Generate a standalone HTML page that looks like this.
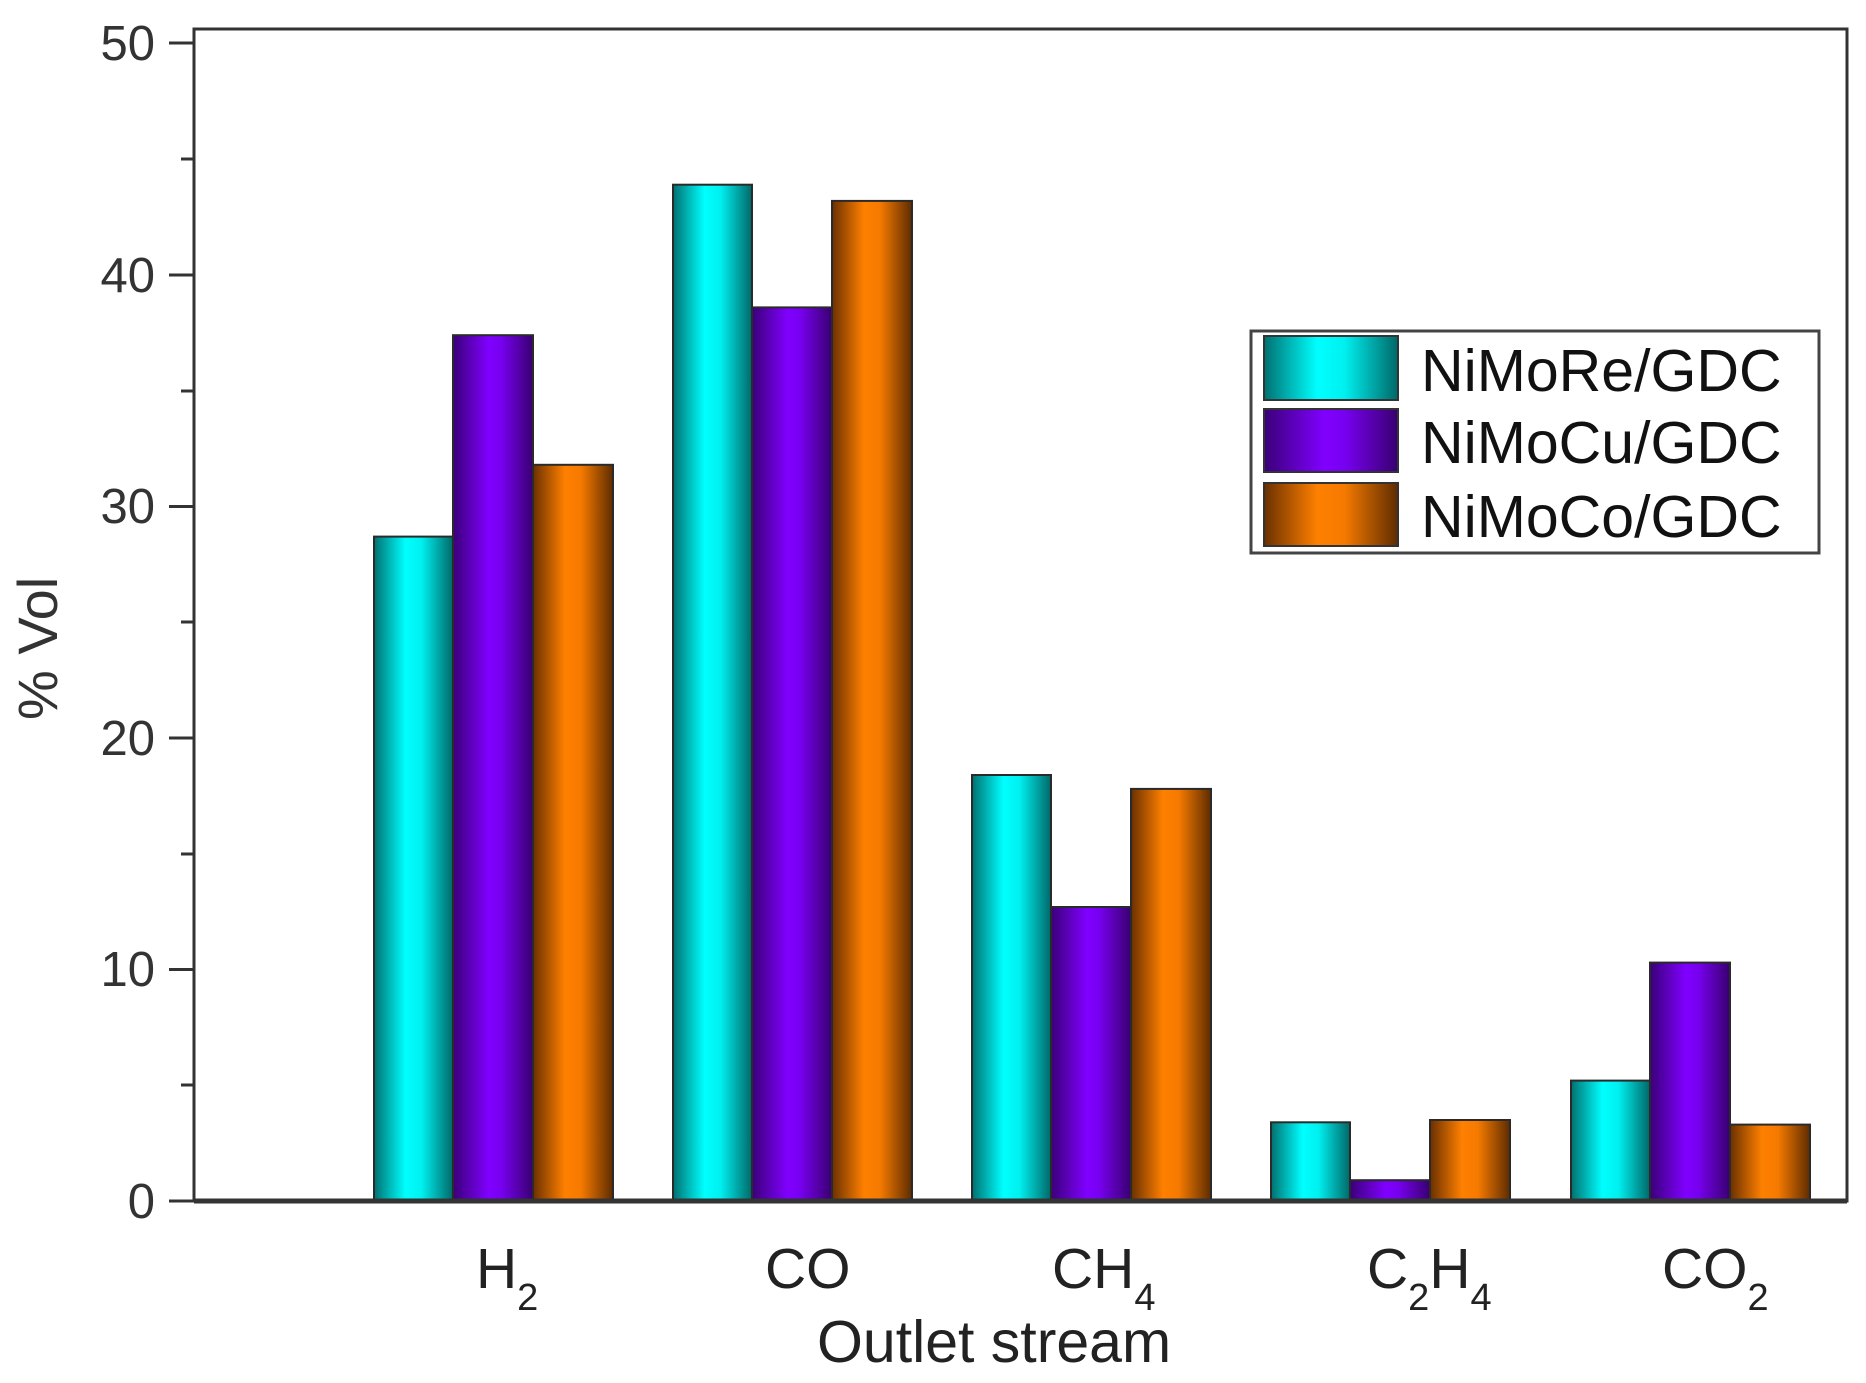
<!DOCTYPE html>
<html><head><style>html,body{margin:0;padding:0;background:#fff}svg{display:block}</style></head>
<body>
<svg width="1866" height="1383" viewBox="0 0 1866 1383" xmlns="http://www.w3.org/2000/svg" font-family="Liberation Sans, sans-serif">
<defs>
<linearGradient id="gc" x1="0" x2="1" y1="0" y2="0"><stop offset="0" stop-color="#007070"/><stop offset="0.4" stop-color="#00ffff"/><stop offset="0.6" stop-color="#00f0f0"/><stop offset="1" stop-color="#006868"/></linearGradient>
<linearGradient id="gp" x1="0" x2="1" y1="0" y2="0"><stop offset="0" stop-color="#3a0078"/><stop offset="0.45" stop-color="#8000ff"/><stop offset="0.6" stop-color="#7800f0"/><stop offset="1" stop-color="#380070"/></linearGradient>
<linearGradient id="go" x1="0" x2="1" y1="0" y2="0"><stop offset="0" stop-color="#6a3000"/><stop offset="0.4" stop-color="#ff8000"/><stop offset="0.6" stop-color="#f57a00"/><stop offset="1" stop-color="#5e2c00"/></linearGradient>
</defs>
<g stroke="#2a2a2a" stroke-width="2">
<rect x="374" y="536.6" width="79" height="664.4" fill="url(#gc)"/>
<rect x="453" y="335.2" width="80" height="865.8" fill="url(#gp)"/>
<rect x="533" y="464.8" width="80" height="736.2" fill="url(#go)"/>
<rect x="673" y="184.7" width="79" height="1016.3" fill="url(#gc)"/>
<rect x="752" y="307.4" width="80" height="893.6" fill="url(#gp)"/>
<rect x="832" y="200.9" width="80" height="1000.1" fill="url(#go)"/>
<rect x="972" y="775.0" width="79" height="426.0" fill="url(#gc)"/>
<rect x="1051" y="907.0" width="80" height="294.0" fill="url(#gp)"/>
<rect x="1131" y="788.9" width="80" height="412.1" fill="url(#go)"/>
<rect x="1271" y="1122.3" width="79" height="78.7" fill="url(#gc)"/>
<rect x="1350" y="1180.2" width="80" height="20.8" fill="url(#gp)"/>
<rect x="1430" y="1120.0" width="80" height="81.0" fill="url(#go)"/>
<rect x="1571" y="1080.6" width="79" height="120.4" fill="url(#gc)"/>
<rect x="1650" y="962.6" width="80" height="238.4" fill="url(#gp)"/>
<rect x="1730" y="1124.6" width="80" height="76.4" fill="url(#go)"/>
</g>
<rect x="194" y="29" width="1653" height="1172" fill="none" stroke="#333" stroke-width="3"/>
<line x1="194" y1="1201" x2="1847" y2="1201" stroke="#333" stroke-width="5"/>
<g stroke="#333" stroke-width="3">
<line x1="169" y1="1201" x2="194" y2="1201"/>
<line x1="181" y1="1085" x2="194" y2="1085"/>
<line x1="169" y1="969.5" x2="194" y2="969.5"/>
<line x1="181" y1="854" x2="194" y2="854"/>
<line x1="169" y1="738" x2="194" y2="738"/>
<line x1="181" y1="622" x2="194" y2="622"/>
<line x1="169" y1="506.5" x2="194" y2="506.5"/>
<line x1="181" y1="391" x2="194" y2="391"/>
<line x1="169" y1="275" x2="194" y2="275"/>
<line x1="181" y1="159" x2="194" y2="159"/>
<line x1="169" y1="43" x2="194" y2="43"/>
</g>
<g font-size="49" fill="#333" text-anchor="end">
<text x="155" y="60">50</text>
<text x="155" y="292">40</text>
<text x="155" y="523">30</text>
<text x="155" y="755">20</text>
<text x="155" y="986">10</text>
<text x="155" y="1218">0</text>
</g>
<text transform="translate(57,720) rotate(-90)" font-size="56" fill="#333">% Vol</text>
<g font-size="57" fill="#222">
<text x="476" y="1288">H<tspan font-size="38" dy="22">2</tspan></text>
<text x="765" y="1288">CO</text>
<text x="1052" y="1288">CH<tspan font-size="38" dy="22">4</tspan></text>
<text x="1367" y="1288">C<tspan font-size="38" dy="22">2</tspan><tspan dy="-22">H</tspan><tspan font-size="38" dy="22">4</tspan></text>
<text x="1662" y="1288">CO<tspan font-size="38" dy="22">2</tspan></text>
</g>
<text x="817" y="1362" font-size="59" fill="#222">Outlet stream</text>
<rect x="1251" y="331" width="568" height="222" fill="#fff" stroke="#444" stroke-width="3"/>
<rect x="1264" y="336" width="134" height="64" fill="url(#gc)" stroke="#333" stroke-width="2"/>
<rect x="1264" y="409" width="134" height="63" fill="url(#gp)" stroke="#333" stroke-width="2"/>
<rect x="1264" y="483" width="134" height="63" fill="url(#go)" stroke="#333" stroke-width="2"/>
<g font-size="59" fill="#111">
<text x="1421" y="391">NiMoRe/GDC</text>
<text x="1421" y="463">NiMoCu/GDC</text>
<text x="1421" y="537">NiMoCo/GDC</text>
</g>
</svg>
</body></html>
